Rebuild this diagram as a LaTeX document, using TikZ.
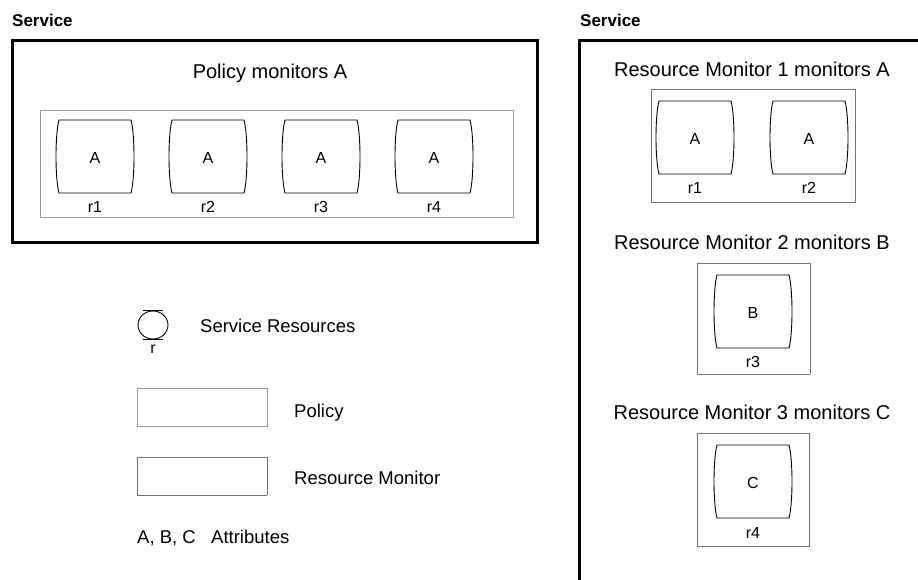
\documentclass[tikz,border=0pt]{standalone}
\usepackage{fontspec}
\setmainfont{Liberation Sans}
\begin{document}
\begin{tikzpicture}[x=1pt,y=-1pt,
  servicebox/.style={draw=black, line width=3pt},
  policybox/.style={draw=black!40, line width=0.9pt},
  monbox/.style={draw=black!55, line width=0.8pt, dash pattern=on 0.45pt off 0.45pt},
  resline/.style={draw=black, line width=0.9pt},
  heading/.style={font=\bfseries\fontsize{17}{20}\selectfont, anchor=base west, inner sep=0pt},
  title/.style={font=\fontsize{20}{24}\selectfont, anchor=base, inner sep=0pt},
  legtext/.style={font=\fontsize{18.5}{22}\selectfont, anchor=base west, inner sep=0pt},
  attr/.style={font=\fontsize{16}{19}\selectfont, inner sep=0pt},
  pics/resbox/.style={code={
    \draw[resline] (-36,-36.5) -- (36,-36.5)
      .. controls (40,-22) and (40,22) .. (36,36.5) -- (-36,36.5)
      .. controls (-40,22) and (-40,-22) .. (-36,-36.5) -- cycle;
    \node[attr] (-txt) at (0,1) {#1};
  }}
]
\useasboundingbox (0,0) rectangle (918,580);
\clip (0,0) rectangle (918,580);

% ---------------- left service: one policy ----------------
\node[heading] (svcL) at (12,27) {Service};
\draw[servicebox] (12,41) rectangle (537,242);
\node[title] (polT) at (270,79) {Policy monitors A};
\draw[policybox] (40,110) rectangle (513,217);

\pic (pr1) at (95,156.5) {resbox=A};
\pic (pr2) at (208,156.5) {resbox=A};
\pic (pr3) at (321,156.5) {resbox=A};
\pic (pr4) at (434,156.5) {resbox=A};
\node[attr] (pn1) at (95,207) {r1};
\node[attr] (pn2) at (208,207) {r2};
\node[attr] (pn3) at (321,207) {r3};
\node[attr] (pn4) at (434,207) {r4};

% ---------------- right service: three resource monitors ----------------
\node[heading] (svcR) at (580,27) {Service};
\draw[servicebox] (940,41) -- (579,41) -- (579,600);

\node[title] (m1T) at (752,77) {Resource Monitor 1 monitors A};
\draw[monbox] (651,89) rectangle (855,202);
\pic (mr1) at (695,137.5) {resbox=A};
\pic (mr2) at (809,137.5) {resbox=A};
\node[attr] (mn1) at (695,188) {r1};
\node[attr] (mn2) at (809,188) {r2};

\node[title] (m2T) at (752,249) {Resource Monitor 2 monitors B};
\draw[monbox] (697,263) rectangle (810,374);
\pic (mr3) at (753,311.5) {resbox=B};
\node[attr] (mn3) at (753,362) {r3};

\node[title] (m3T) at (752,419) {Resource Monitor 3 monitors C};
\draw[monbox] (697,433) rectangle (809,546);
\pic (mr4) at (753,481.5) {resbox=C};
\node[attr] (mn4) at (753,533) {r4};

% ---------------- legend ----------------
\draw[resline] (153,325) ellipse [x radius=15, y radius=14];
\draw[resline] (143,310.5) -- (163,310.5);
\draw[resline] (143,339.5) -- (163,339.5);
\node[attr, anchor=base] (legR) at (153,353) {r};
\node[legtext] (legRt) at (200,332) {Service Resources};

\draw[policybox] (137,388) rectangle (267,426);
\node[legtext] (legP) at (294,417) {Policy};

\draw[monbox] (137,457) rectangle (267,495);
\node[legtext] (legM) at (294,484) {Resource Monitor};

\node[legtext] (legA) at (137,543) {A, B, C};
\node[legtext] (legAt) at (211,543) {Attributes};
\end{tikzpicture}
\end{document}
